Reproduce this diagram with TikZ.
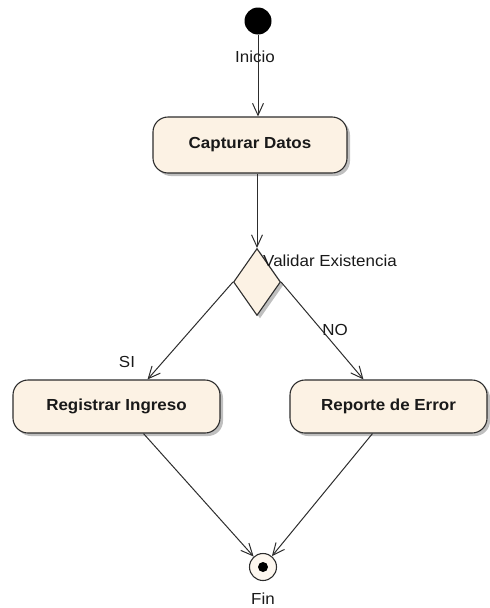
\documentclass[tikz,border=0pt]{standalone}
\usepackage{fontspec}
\setmainfont{Liberation Sans}[FakeStretch=1.06]
\usetikzlibrary{arrows.meta,shapes.geometric,shadows,calc}
\definecolor{actfill}{RGB}{252,242,228}
\definecolor{edgecol}{RGB}{45,45,45}
\definecolor{txtcol}{RGB}{25,25,25}
\tikzset{
  actshadow/.style={drop shadow={shadow xshift=3pt,shadow yshift=-3pt,opacity=.5,fill=gray}},
  action/.style={draw=edgecol,line width=1.1pt,fill=actfill,rounded corners=15pt,
    inner sep=0pt,actshadow,text=txtcol,font=\fontsize{16}{19}\selectfont\bfseries},
  decision/.style={diamond,draw=edgecol,line width=1.1pt,fill=actfill,inner sep=0pt,
    minimum width=47pt,minimum height=67pt,actshadow},
  lbl/.style={text=txtcol,font=\fontsize{16}{19}\selectfont,inner sep=0pt},
  flow/.style={draw=edgecol,line width=1pt,-{Straight Barb[length=12pt,width=11pt]}}
}
\begin{document}
\begin{tikzpicture}[x=1pt,y=-1pt]
\useasboundingbox (0,0) rectangle (490,608);
% start node
\node[circle,fill=black,minimum size=27pt,inner sep=0pt] (start) at (258,21) {};
\node[lbl] (inicio) at (255,57) {Inicio};
% actions
\node[action,minimum width=194pt,minimum height=56pt] (cap) at (250,145) {Capturar Datos};
\node[decision] (dec) at (257,282) {};
\node[lbl,anchor=west] (valtxt) at (263,261) {Validar Existencia};
\node[action,minimum width=207pt,minimum height=53pt] (reg) at (116.5,406.5) {Registrar Ingreso};
\node[action,minimum width=197pt,minimum height=53pt] (rep) at (388.5,406.5) {Reporte de Error};
\node[lbl] (si) at (127,362) {SI};
\node[lbl] (no) at (335,330) {NO};
% final node
\node[circle,draw=edgecol,line width=1.1pt,fill=actfill!60!white,minimum size=27pt,inner sep=0pt] (fin) at (263,567) {};
\node[circle,fill=black,minimum size=10pt,inner sep=0pt] (findot) at (fin.center) {};
\node[lbl] (fintxt) at (263,599) {Fin};
% connection points on the action borders
\coordinate (capin) at (start |- cap.north);
\coordinate (capout) at (dec.north |- cap.south);
\coordinate (regin) at ($(reg.north)+(31,0)$);
\coordinate (repin) at ($(rep.north)+(-25,0)$);
\coordinate (regout) at ($(reg.south)+(27,0)$);
\coordinate (repout) at ($(rep.south)+(-16,0)$);
% flows
\draw[flow] (start) -- (capin);
\draw[flow] (capout) -- (dec.north);
\draw[flow] (dec.west) -- (regin);
\draw[flow] (dec.east) -- (repin);
\draw[flow] (regout) -- (fin);
\draw[flow] (repout) -- (fin);
\end{tikzpicture}
\end{document}
